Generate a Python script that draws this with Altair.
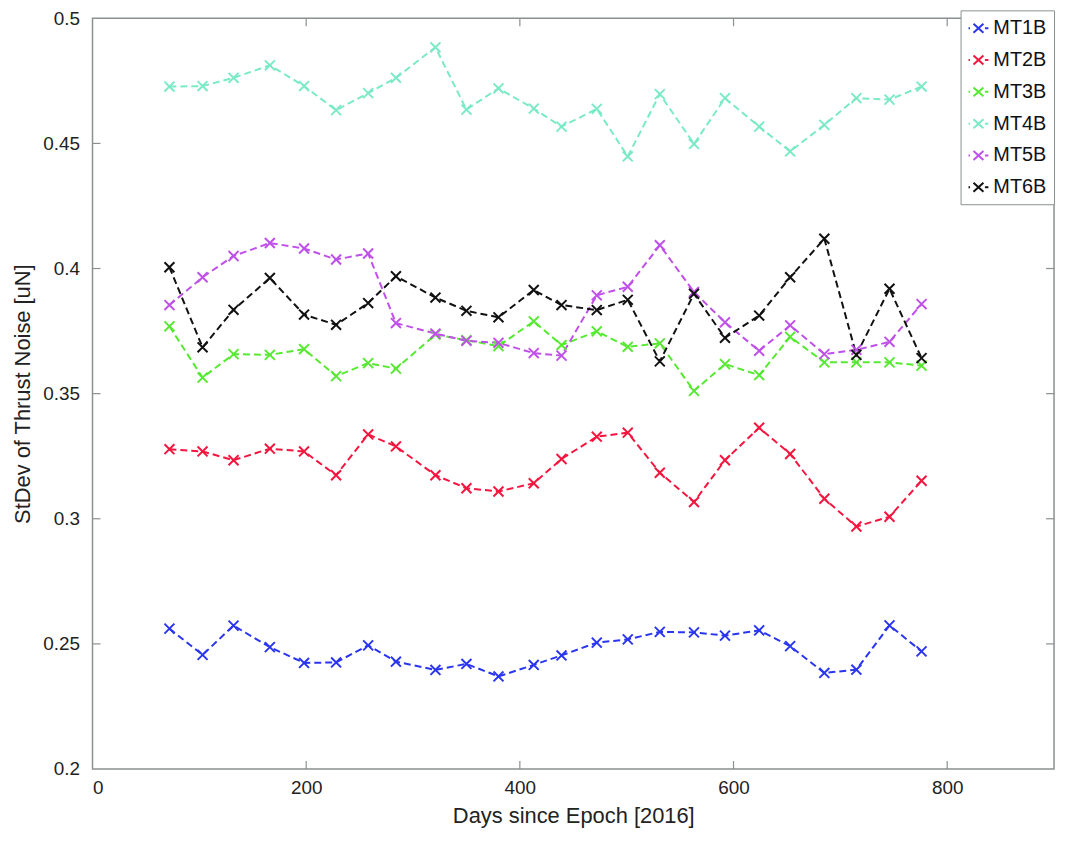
import altair as alt
import pandas as pd

days = [72, 103, 132, 166, 198, 228, 258, 284, 321, 350, 380, 413,
        439, 472, 501, 531, 563, 592, 624, 653, 685, 715, 746, 776]

mt1b = [0.2561, 0.2456, 0.2573, 0.2487, 0.2424, 0.2426, 0.2494, 0.2429,
        0.2396, 0.2420, 0.2370, 0.2416, 0.2454, 0.2505, 0.2518, 0.2548,
        0.2546, 0.2533, 0.2554, 0.2491, 0.2384, 0.2397, 0.2574, 0.2470]
mt2b = [0.3278, 0.3269, 0.3234, 0.3280, 0.3269, 0.3174, 0.3337, 0.3289,
        0.3174, 0.3122, 0.3109, 0.3142, 0.3239, 0.3328, 0.3344, 0.3184,
        0.3067, 0.3234, 0.3364, 0.3259, 0.3080, 0.2969, 0.3008, 0.3152]
mt3b = [0.3769, 0.3564, 0.3658, 0.3655, 0.3678, 0.3570, 0.3622, 0.3600,
        0.3736, 0.3714, 0.3690, 0.3789, 0.3694, 0.3749, 0.3687, 0.3701,
        0.3511, 0.3618, 0.3574, 0.3727, 0.3625, 0.3625, 0.3625, 0.3612]
mt4b = [0.4727, 0.4729, 0.4762, 0.4812, 0.4729, 0.4633, 0.4701, 0.4762,
        0.4884, 0.4635, 0.4720, 0.4639, 0.4567, 0.4638, 0.4448, 0.4697,
        0.4498, 0.4681, 0.4567, 0.4468, 0.4574, 0.4681, 0.4675, 0.4727]
mt5b = [0.3854, 0.3965, 0.4050, 0.4102, 0.4080, 0.4036, 0.4060, 0.3782,
        0.3740, 0.3711, 0.3703, 0.3662, 0.3652, 0.3893, 0.3927, 0.4093,
        0.3906, 0.3785, 0.3671, 0.3773, 0.3658, 0.3675, 0.3707, 0.3858]
mt6b = [0.4005, 0.3685, 0.3835, 0.3962, 0.3816, 0.3775, 0.3862, 0.3969,
        0.3884, 0.3831, 0.3805, 0.3914, 0.3854, 0.3834, 0.3875, 0.3629,
        0.3899, 0.3723, 0.3812, 0.3965, 0.4119, 0.3655, 0.3919, 0.3642]

series_names = ["MT1B", "MT2B", "MT3B", "MT4B", "MT5B", "MT6B"]
series_values = [mt1b, mt2b, mt3b, mt4b, mt5b, mt6b]
series_colors = ["#2a35f2", "#f5163f", "#55ea30", "#7aeac6", "#c050ea", "#111111"]

x_ticks = [0, 200, 400, 600, 800]
y_ticks = [0.2, 0.25, 0.3, 0.35, 0.4, 0.45, 0.5]
x_inner_ticks = [200, 400, 600, 800]
y_inner_ticks = [0.25, 0.3, 0.35, 0.4, 0.45]

rows = []
for name, vals in zip(series_names, series_values):
    for d, v in zip(days, vals):
        rows.append({"day": d, "value": v, "series": name})
df = pd.DataFrame(rows)

W, H = 967, 755
FONT = "Liberation Sans"
FRAME = "#8a9090"
X_PATH = "M-1,-1L1,1M-1,1L1,-1"
LEGEND_PATH = "M-1,0L-0.85,0M-0.5,-0.45L0.5,0.45M-0.5,0.45L0.5,-0.45M0.65,0L1,0"

xscale = alt.Scale(domain=[0, 900], nice=False, zero=False)
yscale = alt.Scale(domain=[0.2, 0.5], nice=False, zero=False)
color = alt.Color(
    "series:N",
    scale=alt.Scale(domain=series_names, range=series_colors),
    legend=alt.Legend(
        title=None, orient="none", legendX=873, legendY=-8,
        symbolType=LEGEND_PATH, symbolSize=400, symbolStrokeWidth=2,
        labelFontSize=20, labelFont=FONT, labelColor="#111",
        rowPadding=11, padding=7, labelOffset=4,
        fillColor="white", strokeColor=FRAME,
    ),
)

xenc = alt.X(
    "day:Q", scale=xscale,
    axis=alt.Axis(values=x_ticks, ticks=False, domain=False, grid=False,
                  labelFontSize=19, labelFont=FONT, labelColor="#222",
                  labelPadding=10, title="Days since Epoch [2016]",
                  titleFontSize=22, titleFont=FONT, titleFontWeight="normal",
                  titleColor="#222", titleY=54, titleBaseline="alphabetic"),
)
yenc = alt.Y(
    "value:Q", scale=yscale,
    axis=alt.Axis(values=y_ticks, format="~g", ticks=False, domain=False, grid=False,
                  labelFontSize=19, labelFont=FONT, labelColor="#222",
                  labelPadding=13, title="StDev of Thrust Noise [uN]",
                  titleFontSize=22, titleFont=FONT, titleFontWeight="normal",
                  titleColor="#222", titleX=-70, titleY=H / 2,
                  titleBaseline="middle"),
)

base = alt.Chart(df)
lines = base.mark_line(strokeDash=[7, 4], strokeWidth=2).encode(
    x=xenc, y=yenc, color=color, detail="series:N")
points = base.mark_point(shape=X_PATH, filled=False, size=100, strokeWidth=2,
                         opacity=1).encode(x="day:Q", y="value:Q", color=color)

xt = pd.DataFrame({"t": x_inner_ticks})
yt = pd.DataFrame({"t": y_inner_ticks})
rule_style = dict(color=FRAME, strokeWidth=1.2)
bottom_ticks = alt.Chart(xt).mark_rule(**rule_style).encode(
    x=alt.X("t:Q", scale=xscale), y=alt.value(H), y2=alt.value(H - 8))
top_ticks = alt.Chart(xt).mark_rule(**rule_style).encode(
    x=alt.X("t:Q", scale=xscale), y=alt.value(0), y2=alt.value(8))
left_ticks = alt.Chart(yt).mark_rule(**rule_style).encode(
    y=alt.Y("t:Q", scale=yscale), x=alt.value(0), x2=alt.value(8))
right_ticks = alt.Chart(yt).mark_rule(**rule_style).encode(
    y=alt.Y("t:Q", scale=yscale), x=alt.value(W - 8), x2=alt.value(W))

chart = alt.layer(lines, points, bottom_ticks, top_ticks, left_ticks, right_ticks).properties(
    width=W, height=H,
    autosize=alt.AutoSizeParams(type="none"),
    padding={"left": 85, "top": 8, "right": 5, "bottom": 59},
    background="white",
).configure_view(stroke=FRAME, strokeWidth=1.5)

chart.save("out.html", embed_options={"renderer": "svg", "actions": False})
